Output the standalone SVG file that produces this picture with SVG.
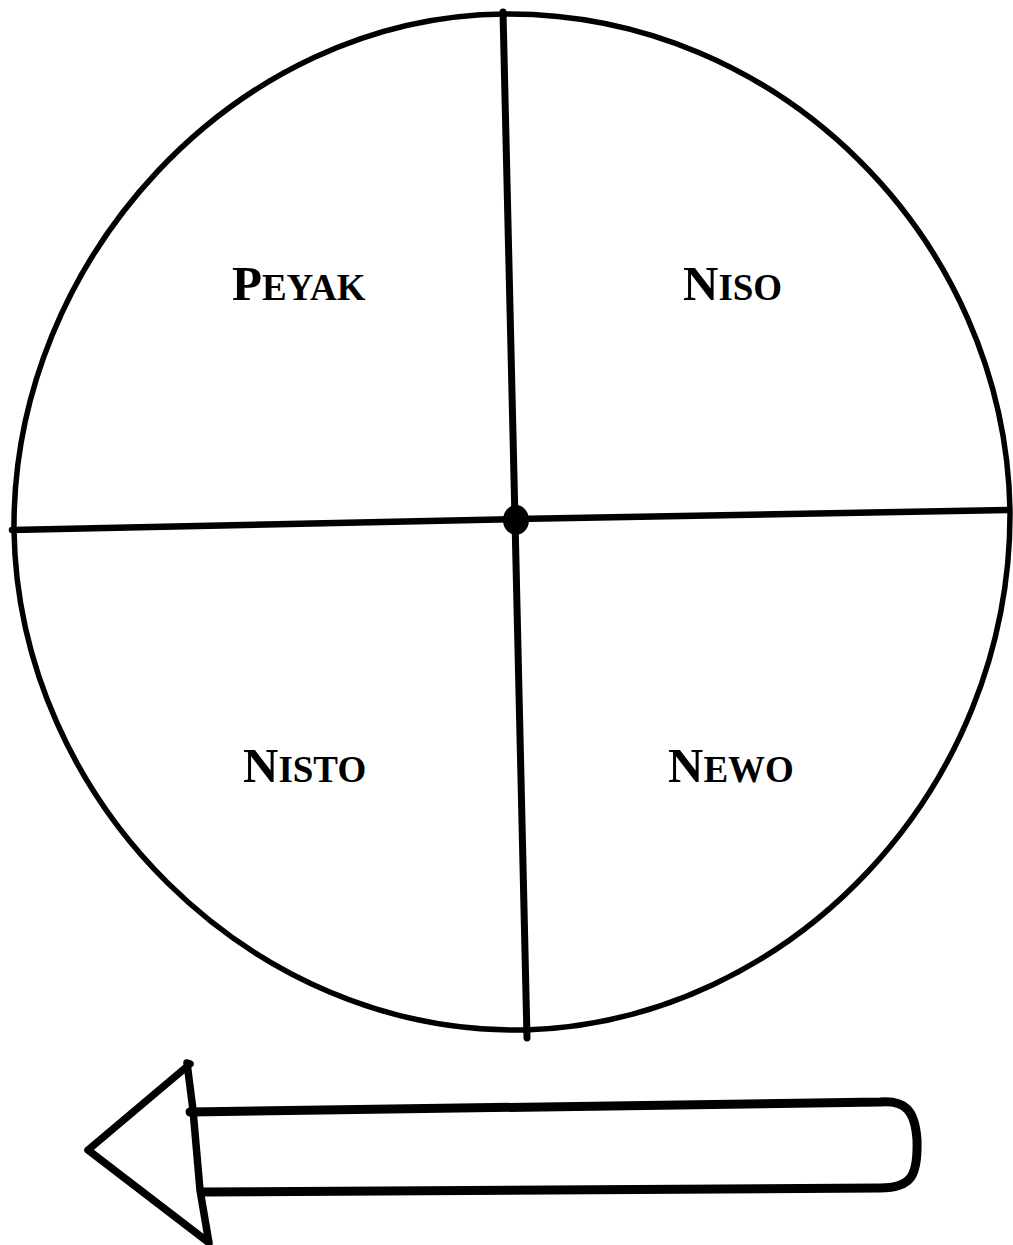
<svg xmlns="http://www.w3.org/2000/svg" width="1013" height="1245" viewBox="0 0 1013 1245">
<style>
.ink{fill:none;stroke:#000;stroke-linecap:round;stroke-linejoin:round}
.lbl{font-family:"Liberation Serif","DejaVu Serif",serif;font-weight:bold;fill:#000}
.big{font-size:49px}
.sm{font-size:37px}
</style>
<rect width="1013" height="1245" fill="#fff"/>
<g id="wheel">
<path class="ink" stroke-width="5.5" d="M505,14 C780,12 1005,240 1010,510 C1012,790 790,1022 525,1030 C250,1035 18,800 14,530 C12,260 235,16 505,14 Z"/>
</g>
<g id="connectors">
<path class="ink" stroke-width="7" d="M503,12 L515,520 L527,1038"/>
<path class="ink" stroke-width="6.5" d="M12,530 L516,519 L1008,510"/>
<ellipse cx="516" cy="520" rx="13" ry="15" fill="#000"/>
</g>
<g id="peyak"><text class="lbl" x="232" y="300"><tspan class="big">P</tspan><tspan class="sm">EYAK</tspan></text></g>
<g id="niso"><text class="lbl" x="683" y="300"><tspan class="big">N</tspan><tspan class="sm">ISO</tspan></text></g>
<g id="nisto"><text class="lbl" x="243" y="782"><tspan class="big">N</tspan><tspan class="sm">ISTO</tspan></text></g>
<g id="newo"><text class="lbl" x="668" y="782"><tspan class="big">N</tspan><tspan class="sm">EWO</tspan></text></g>
<g id="arrow">
<path class="ink" stroke-width="7.5" d="M190,1064 L88,1150 L208,1242 M187,1063 L193,1110 L200,1190 L209,1243"/>
<path class="ink" stroke-width="9" d="M190,1112 L880,1102 C905,1100 915,1110 917,1140 C918,1175 912,1188 880,1188 L203,1192"/>
</g>
</svg>
